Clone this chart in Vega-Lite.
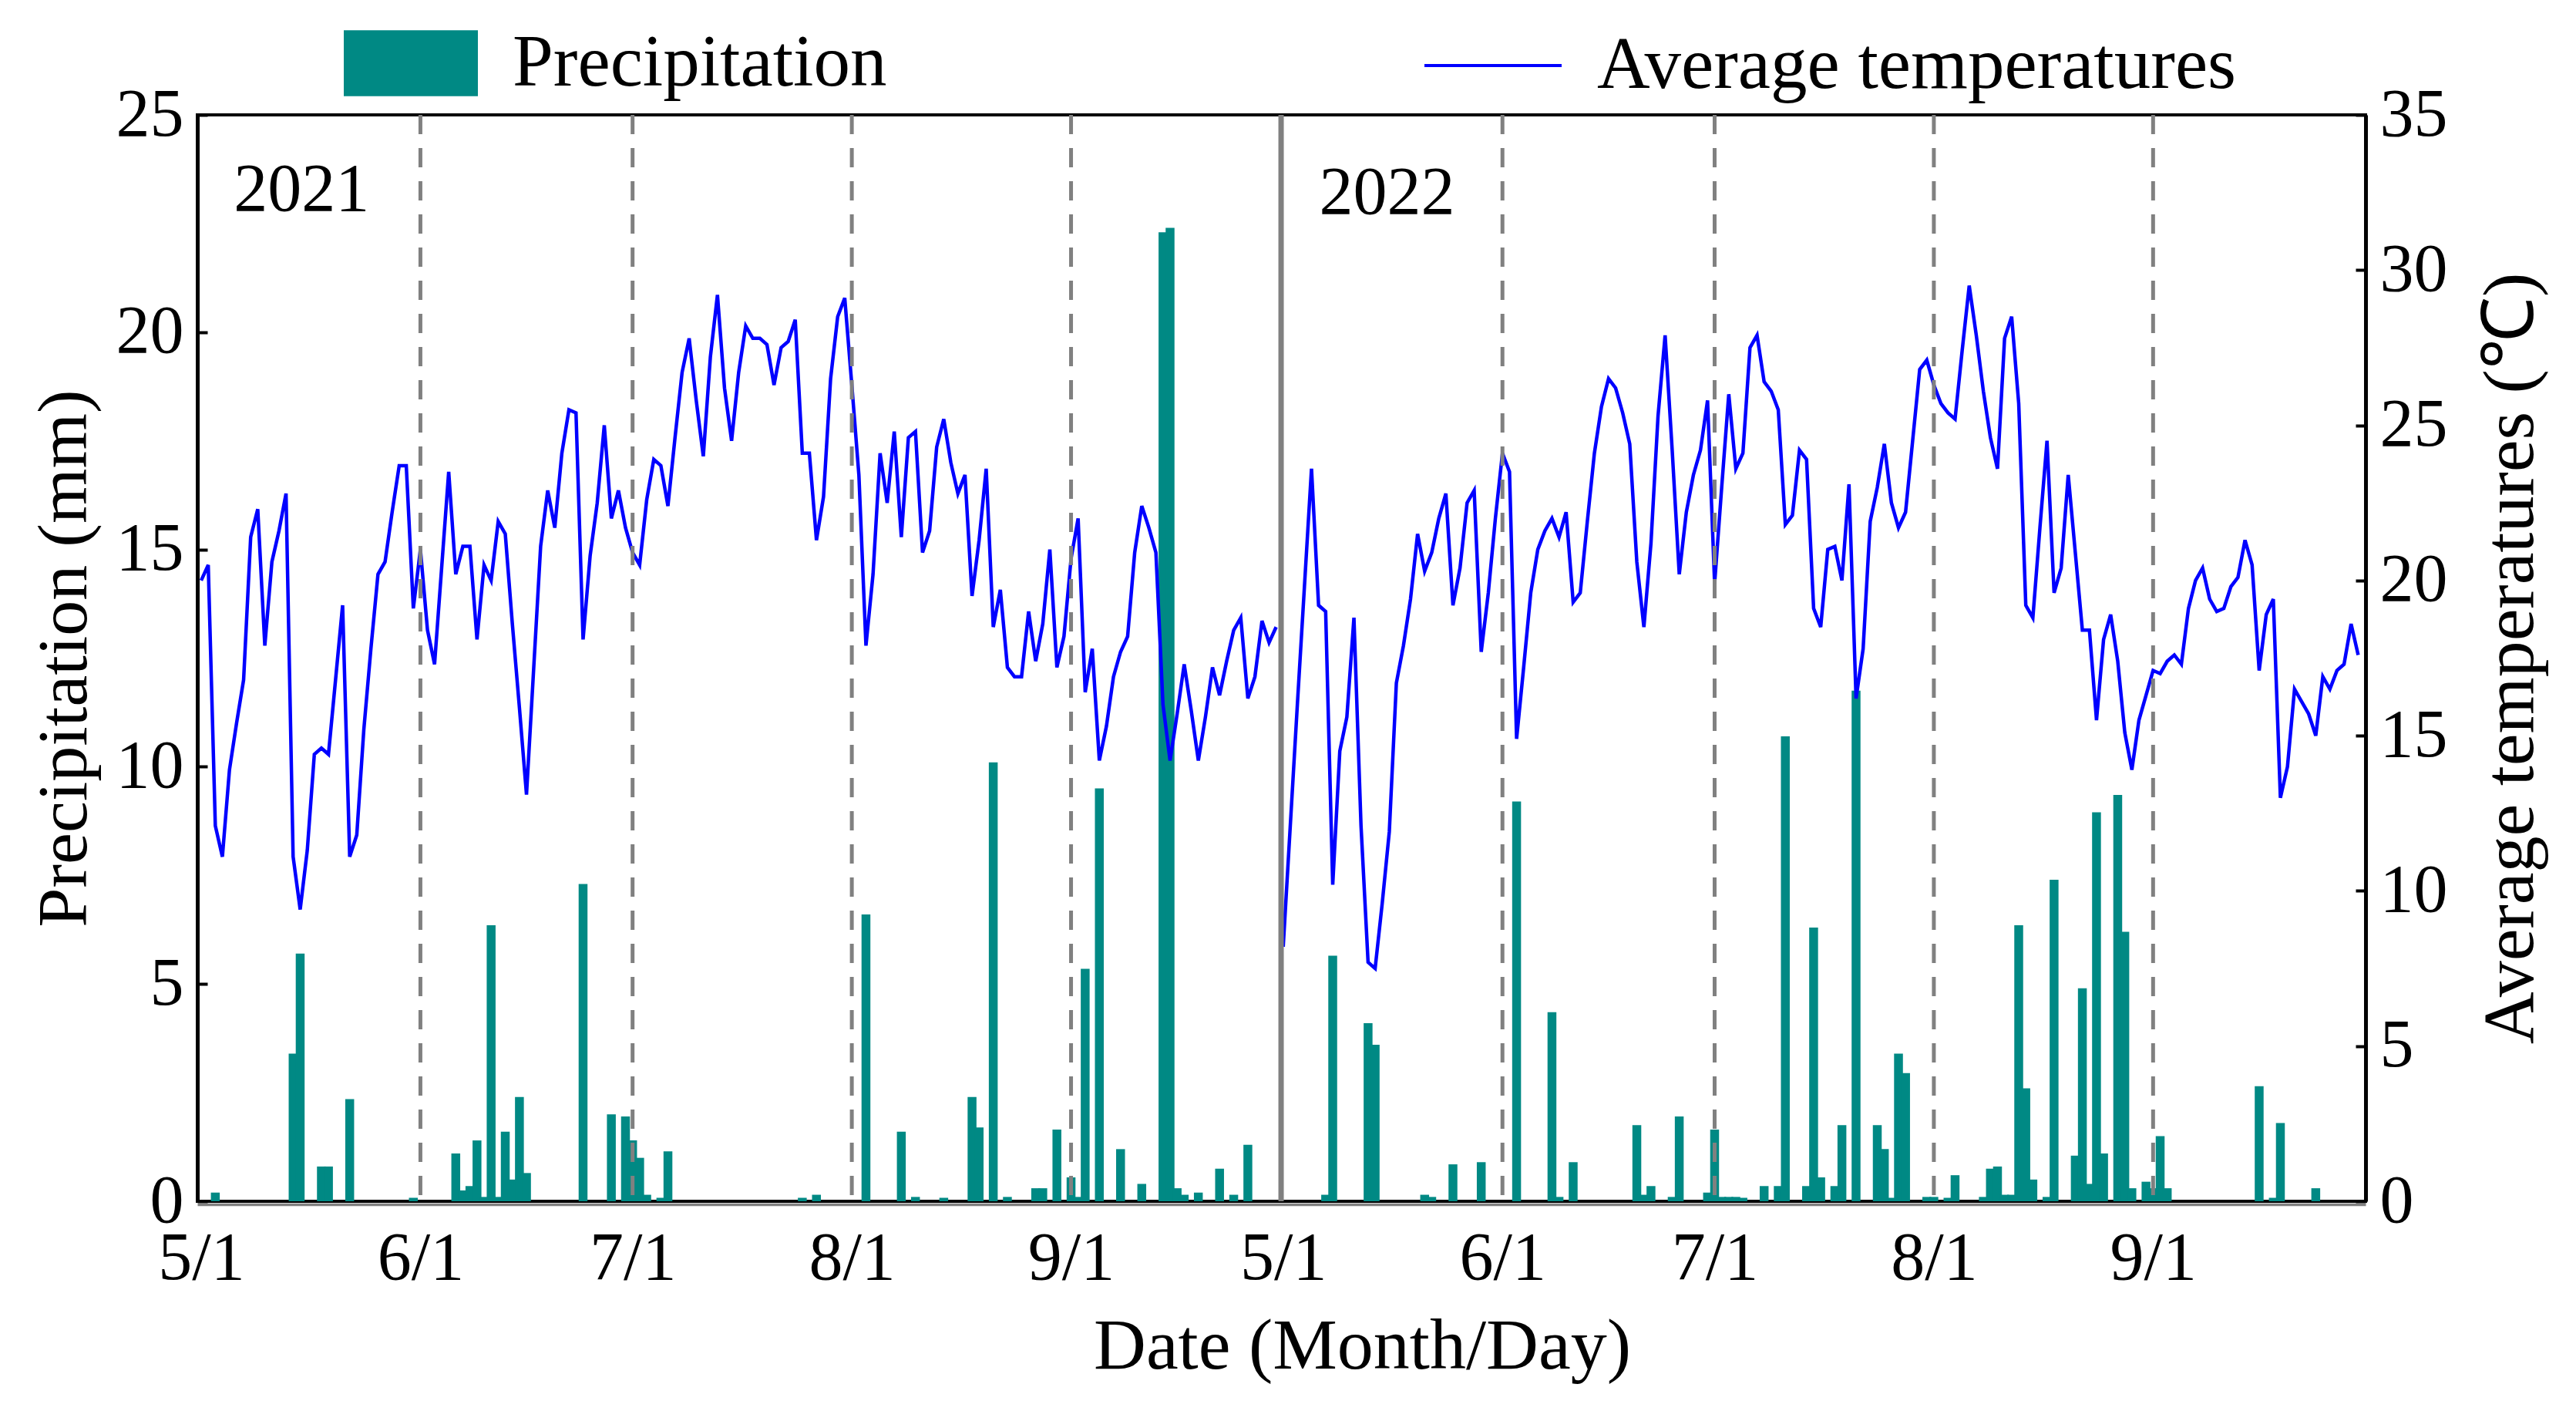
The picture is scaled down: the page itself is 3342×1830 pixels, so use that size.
{
  "$schema": "https://vega.github.io/schema/vega-lite/v6.json",
  "width": 2813,
  "height": 1409,
  "autosize": {"type": "none"},
  "padding": {"left": 256, "top": 149, "right": 273, "bottom": 272},
  "background": "white",
  "config": {
    "font": "Liberation Serif",
    "view": {"stroke": "black", "strokeWidth": 4},
    "axis": {"grid": false, "labelColor": "black", "titleColor": "black", "titleFontWeight": "normal", "labelFont": "Liberation Serif", "titleFont": "Liberation Serif"},
    "legend": {"labelLimit": 0}
  },
  "datasets": {
    "precip": [
      {"d": 2, "p": 0.2}, {"d": 13, "p": 3.4}, {"d": 14, "p": 5.7}, {"d": 17, "p": 0.8}, {"d": 18, "p": 0.8},
      {"d": 21, "p": 2.35}, {"d": 30, "p": 0.08}, {"d": 36, "p": 1.1}, {"d": 37, "p": 0.25}, {"d": 38, "p": 0.35},
      {"d": 39, "p": 1.4}, {"d": 40, "p": 0.1}, {"d": 41, "p": 6.35}, {"d": 42, "p": 0.1}, {"d": 43, "p": 1.6},
      {"d": 44, "p": 0.5}, {"d": 45, "p": 2.4}, {"d": 46, "p": 0.65}, {"d": 54, "p": 7.3}, {"d": 58, "p": 2.0},
      {"d": 60, "p": 1.95}, {"d": 61, "p": 1.4}, {"d": 62, "p": 1.0}, {"d": 63, "p": 0.15}, {"d": 65, "p": 0.08},
      {"d": 66, "p": 1.15}, {"d": 85, "p": 0.08}, {"d": 87, "p": 0.15}, {"d": 94, "p": 6.6}, {"d": 99, "p": 1.6},
      {"d": 101, "p": 0.1}, {"d": 105, "p": 0.08}, {"d": 109, "p": 2.4}, {"d": 110, "p": 1.7}, {"d": 112, "p": 10.1},
      {"d": 114, "p": 0.1}, {"d": 118, "p": 0.3}, {"d": 119, "p": 0.3}, {"d": 121, "p": 1.65}, {"d": 123, "p": 0.55},
      {"d": 124, "p": 0.1}, {"d": 125, "p": 5.35}, {"d": 127, "p": 9.5}, {"d": 130, "p": 1.2}, {"d": 133, "p": 0.4},
      {"d": 136, "p": 22.3}, {"d": 137, "p": 22.4}, {"d": 138, "p": 0.3}, {"d": 139, "p": 0.15}, {"d": 141, "p": 0.2},
      {"d": 144, "p": 0.75}, {"d": 146, "p": 0.15}, {"d": 148, "p": 1.3},
      {"d": 159, "p": 0.15}, {"d": 160, "p": 5.65}, {"d": 165, "p": 4.1}, {"d": 166, "p": 3.6}, {"d": 173, "p": 0.15},
      {"d": 174, "p": 0.1}, {"d": 177, "p": 0.85}, {"d": 181, "p": 0.9}, {"d": 186, "p": 9.2}, {"d": 191, "p": 4.35},
      {"d": 192, "p": 0.1}, {"d": 194, "p": 0.9}, {"d": 203, "p": 1.75}, {"d": 204, "p": 0.15}, {"d": 205, "p": 0.35},
      {"d": 208, "p": 0.1}, {"d": 209, "p": 1.95}, {"d": 213, "p": 0.2}, {"d": 214, "p": 1.65}, {"d": 215, "p": 0.1},
      {"d": 216, "p": 0.1}, {"d": 217, "p": 0.1}, {"d": 218, "p": 0.08}, {"d": 221, "p": 0.35}, {"d": 223, "p": 0.35},
      {"d": 224, "p": 10.7}, {"d": 227, "p": 0.35}, {"d": 228, "p": 6.3}, {"d": 229, "p": 0.55}, {"d": 231, "p": 0.35},
      {"d": 232, "p": 1.75}, {"d": 234, "p": 11.75}, {"d": 237, "p": 1.75}, {"d": 238, "p": 1.2}, {"d": 239, "p": 0.08},
      {"d": 240, "p": 3.4}, {"d": 241, "p": 2.95}, {"d": 244, "p": 0.1}, {"d": 245, "p": 0.1}, {"d": 247, "p": 0.08},
      {"d": 248, "p": 0.6}, {"d": 252, "p": 0.1}, {"d": 253, "p": 0.75}, {"d": 254, "p": 0.8}, {"d": 255, "p": 0.15},
      {"d": 256, "p": 0.15}, {"d": 257, "p": 6.35}, {"d": 258, "p": 2.6}, {"d": 259, "p": 0.5}, {"d": 261, "p": 0.1},
      {"d": 262, "p": 7.4}, {"d": 265, "p": 1.05}, {"d": 266, "p": 4.9}, {"d": 267, "p": 0.4}, {"d": 268, "p": 8.95},
      {"d": 269, "p": 1.1}, {"d": 271, "p": 9.35}, {"d": 272, "p": 6.2}, {"d": 273, "p": 0.3}, {"d": 275, "p": 0.45},
      {"d": 276, "p": 0.3}, {"d": 277, "p": 1.5}, {"d": 278, "p": 0.3}, {"d": 291, "p": 2.65}, {"d": 293, "p": 0.08},
      {"d": 294, "p": 1.8}, {"d": 299, "p": 0.3}
    ],
    "temp": [
      {"d": 0, "t": 20.0, "s": "2021"}, {"d": 1, "t": 20.5, "s": "2021"}, {"d": 2, "t": 12.1, "s": "2021"}, {"d": 3, "t": 11.1, "s": "2021"},
      {"d": 4, "t": 13.9, "s": "2021"}, {"d": 5, "t": 15.4, "s": "2021"}, {"d": 6, "t": 16.8, "s": "2021"}, {"d": 7, "t": 21.4, "s": "2021"},
      {"d": 8, "t": 22.3, "s": "2021"}, {"d": 9, "t": 17.9, "s": "2021"}, {"d": 10, "t": 20.6, "s": "2021"}, {"d": 11, "t": 21.6, "s": "2021"},
      {"d": 12, "t": 22.8, "s": "2021"}, {"d": 13, "t": 11.1, "s": "2021"}, {"d": 14, "t": 9.4, "s": "2021"}, {"d": 15, "t": 11.3, "s": "2021"},
      {"d": 16, "t": 14.4, "s": "2021"}, {"d": 17, "t": 14.6, "s": "2021"}, {"d": 18, "t": 14.4, "s": "2021"}, {"d": 19, "t": 16.8, "s": "2021"},
      {"d": 20, "t": 19.2, "s": "2021"}, {"d": 21, "t": 11.1, "s": "2021"}, {"d": 22, "t": 11.8, "s": "2021"}, {"d": 23, "t": 15.2, "s": "2021"},
      {"d": 24, "t": 17.8, "s": "2021"}, {"d": 25, "t": 20.2, "s": "2021"}, {"d": 26, "t": 20.6, "s": "2021"}, {"d": 27, "t": 22.2, "s": "2021"},
      {"d": 28, "t": 23.7, "s": "2021"}, {"d": 29, "t": 23.7, "s": "2021"}, {"d": 30, "t": 19.1, "s": "2021"}, {"d": 31, "t": 21.0, "s": "2021"},
      {"d": 32, "t": 18.4, "s": "2021"}, {"d": 33, "t": 17.3, "s": "2021"}, {"d": 34, "t": 20.4, "s": "2021"}, {"d": 35, "t": 23.5, "s": "2021"},
      {"d": 36, "t": 20.2, "s": "2021"}, {"d": 37, "t": 21.1, "s": "2021"}, {"d": 38, "t": 21.1, "s": "2021"}, {"d": 39, "t": 18.1, "s": "2021"},
      {"d": 40, "t": 20.5, "s": "2021"}, {"d": 41, "t": 20.0, "s": "2021"}, {"d": 42, "t": 21.9, "s": "2021"}, {"d": 43, "t": 21.5, "s": "2021"},
      {"d": 44, "t": 18.6, "s": "2021"}, {"d": 45, "t": 15.9, "s": "2021"}, {"d": 46, "t": 13.1, "s": "2021"}, {"d": 47, "t": 17.1, "s": "2021"},
      {"d": 48, "t": 21.1, "s": "2021"}, {"d": 49, "t": 22.9, "s": "2021"}, {"d": 50, "t": 21.7, "s": "2021"}, {"d": 51, "t": 24.1, "s": "2021"},
      {"d": 52, "t": 25.5, "s": "2021"}, {"d": 53, "t": 25.4, "s": "2021"}, {"d": 54, "t": 18.1, "s": "2021"}, {"d": 55, "t": 20.8, "s": "2021"},
      {"d": 56, "t": 22.5, "s": "2021"}, {"d": 57, "t": 25.0, "s": "2021"}, {"d": 58, "t": 22.0, "s": "2021"}, {"d": 59, "t": 22.9, "s": "2021"},
      {"d": 60, "t": 21.7, "s": "2021"}, {"d": 61, "t": 20.9, "s": "2021"}, {"d": 62, "t": 20.5, "s": "2021"}, {"d": 63, "t": 22.6, "s": "2021"},
      {"d": 64, "t": 23.9, "s": "2021"}, {"d": 65, "t": 23.7, "s": "2021"}, {"d": 66, "t": 22.4, "s": "2021"}, {"d": 67, "t": 24.6, "s": "2021"},
      {"d": 68, "t": 26.7, "s": "2021"}, {"d": 69, "t": 27.8, "s": "2021"}, {"d": 70, "t": 25.8, "s": "2021"}, {"d": 71, "t": 24.0, "s": "2021"},
      {"d": 72, "t": 27.2, "s": "2021"}, {"d": 73, "t": 29.2, "s": "2021"}, {"d": 74, "t": 26.2, "s": "2021"}, {"d": 75, "t": 24.5, "s": "2021"},
      {"d": 76, "t": 26.7, "s": "2021"}, {"d": 77, "t": 28.2, "s": "2021"}, {"d": 78, "t": 27.8, "s": "2021"}, {"d": 79, "t": 27.8, "s": "2021"},
      {"d": 80, "t": 27.6, "s": "2021"}, {"d": 81, "t": 26.3, "s": "2021"}, {"d": 82, "t": 27.5, "s": "2021"}, {"d": 83, "t": 27.7, "s": "2021"},
      {"d": 84, "t": 28.4, "s": "2021"}, {"d": 85, "t": 24.1, "s": "2021"}, {"d": 86, "t": 24.1, "s": "2021"}, {"d": 87, "t": 21.3, "s": "2021"},
      {"d": 88, "t": 22.7, "s": "2021"}, {"d": 89, "t": 26.5, "s": "2021"}, {"d": 90, "t": 28.5, "s": "2021"}, {"d": 91, "t": 29.1, "s": "2021"},
      {"d": 92, "t": 26.3, "s": "2021"}, {"d": 93, "t": 23.4, "s": "2021"}, {"d": 94, "t": 17.9, "s": "2021"}, {"d": 95, "t": 20.2, "s": "2021"},
      {"d": 96, "t": 24.1, "s": "2021"}, {"d": 97, "t": 22.5, "s": "2021"}, {"d": 98, "t": 24.8, "s": "2021"}, {"d": 99, "t": 21.4, "s": "2021"},
      {"d": 100, "t": 24.6, "s": "2021"}, {"d": 101, "t": 24.8, "s": "2021"}, {"d": 102, "t": 20.9, "s": "2021"}, {"d": 103, "t": 21.6, "s": "2021"},
      {"d": 104, "t": 24.3, "s": "2021"}, {"d": 105, "t": 25.2, "s": "2021"}, {"d": 106, "t": 23.8, "s": "2021"}, {"d": 107, "t": 22.8, "s": "2021"},
      {"d": 108, "t": 23.4, "s": "2021"}, {"d": 109, "t": 19.5, "s": "2021"}, {"d": 110, "t": 21.3, "s": "2021"}, {"d": 111, "t": 23.6, "s": "2021"},
      {"d": 112, "t": 18.5, "s": "2021"}, {"d": 113, "t": 19.7, "s": "2021"}, {"d": 114, "t": 17.2, "s": "2021"}, {"d": 115, "t": 16.9, "s": "2021"},
      {"d": 116, "t": 16.9, "s": "2021"}, {"d": 117, "t": 19.0, "s": "2021"}, {"d": 118, "t": 17.4, "s": "2021"}, {"d": 119, "t": 18.6, "s": "2021"},
      {"d": 120, "t": 21.0, "s": "2021"}, {"d": 121, "t": 17.2, "s": "2021"}, {"d": 122, "t": 18.2, "s": "2021"}, {"d": 123, "t": 20.7, "s": "2021"},
      {"d": 124, "t": 22.0, "s": "2021"}, {"d": 125, "t": 16.4, "s": "2021"}, {"d": 126, "t": 17.8, "s": "2021"}, {"d": 127, "t": 14.2, "s": "2021"},
      {"d": 128, "t": 15.3, "s": "2021"}, {"d": 129, "t": 16.9, "s": "2021"}, {"d": 130, "t": 17.7, "s": "2021"}, {"d": 131, "t": 18.2, "s": "2021"},
      {"d": 132, "t": 20.9, "s": "2021"}, {"d": 133, "t": 22.4, "s": "2021"}, {"d": 134, "t": 21.7, "s": "2021"}, {"d": 135, "t": 20.9, "s": "2021"},
      {"d": 136, "t": 16.0, "s": "2021"}, {"d": 137, "t": 14.2, "s": "2021"}, {"d": 138, "t": 15.7, "s": "2021"}, {"d": 139, "t": 17.3, "s": "2021"},
      {"d": 140, "t": 15.8, "s": "2021"}, {"d": 141, "t": 14.2, "s": "2021"}, {"d": 142, "t": 15.6, "s": "2021"}, {"d": 143, "t": 17.2, "s": "2021"},
      {"d": 144, "t": 16.3, "s": "2021"}, {"d": 145, "t": 17.4, "s": "2021"}, {"d": 146, "t": 18.4, "s": "2021"}, {"d": 147, "t": 18.8, "s": "2021"},
      {"d": 148, "t": 16.2, "s": "2021"}, {"d": 149, "t": 16.9, "s": "2021"}, {"d": 150, "t": 18.7, "s": "2021"}, {"d": 151, "t": 18.0, "s": "2021"},
      {"d": 152, "t": 18.5, "s": "2021"},
      {"d": 153, "t": 8.2, "s": "2022"}, {"d": 154, "t": 12.1, "s": "2022"}, {"d": 155, "t": 16.0, "s": "2022"}, {"d": 156, "t": 19.8, "s": "2022"},
      {"d": 157, "t": 23.6, "s": "2022"}, {"d": 158, "t": 19.2, "s": "2022"}, {"d": 159, "t": 19.0, "s": "2022"}, {"d": 160, "t": 10.2, "s": "2022"},
      {"d": 161, "t": 14.5, "s": "2022"}, {"d": 162, "t": 15.6, "s": "2022"}, {"d": 163, "t": 18.8, "s": "2022"}, {"d": 164, "t": 12.1, "s": "2022"},
      {"d": 165, "t": 7.7, "s": "2022"}, {"d": 166, "t": 7.5, "s": "2022"}, {"d": 167, "t": 9.6, "s": "2022"}, {"d": 168, "t": 11.9, "s": "2022"},
      {"d": 169, "t": 16.7, "s": "2022"}, {"d": 170, "t": 17.9, "s": "2022"}, {"d": 171, "t": 19.4, "s": "2022"}, {"d": 172, "t": 21.5, "s": "2022"},
      {"d": 173, "t": 20.3, "s": "2022"}, {"d": 174, "t": 20.9, "s": "2022"}, {"d": 175, "t": 22.0, "s": "2022"}, {"d": 176, "t": 22.8, "s": "2022"},
      {"d": 177, "t": 19.2, "s": "2022"}, {"d": 178, "t": 20.4, "s": "2022"}, {"d": 179, "t": 22.5, "s": "2022"}, {"d": 180, "t": 22.9, "s": "2022"},
      {"d": 181, "t": 17.7, "s": "2022"}, {"d": 182, "t": 19.6, "s": "2022"}, {"d": 183, "t": 22.0, "s": "2022"}, {"d": 184, "t": 24.1, "s": "2022"},
      {"d": 185, "t": 23.5, "s": "2022"}, {"d": 186, "t": 14.9, "s": "2022"}, {"d": 187, "t": 17.2, "s": "2022"}, {"d": 188, "t": 19.6, "s": "2022"},
      {"d": 189, "t": 21.0, "s": "2022"}, {"d": 190, "t": 21.6, "s": "2022"}, {"d": 191, "t": 22.0, "s": "2022"}, {"d": 192, "t": 21.4, "s": "2022"},
      {"d": 193, "t": 22.2, "s": "2022"}, {"d": 194, "t": 19.3, "s": "2022"}, {"d": 195, "t": 19.6, "s": "2022"}, {"d": 196, "t": 21.9, "s": "2022"},
      {"d": 197, "t": 24.1, "s": "2022"}, {"d": 198, "t": 25.6, "s": "2022"}, {"d": 199, "t": 26.5, "s": "2022"}, {"d": 200, "t": 26.2, "s": "2022"},
      {"d": 201, "t": 25.4, "s": "2022"}, {"d": 202, "t": 24.4, "s": "2022"}, {"d": 203, "t": 20.6, "s": "2022"}, {"d": 204, "t": 18.5, "s": "2022"},
      {"d": 205, "t": 21.2, "s": "2022"}, {"d": 206, "t": 25.3, "s": "2022"}, {"d": 207, "t": 27.9, "s": "2022"}, {"d": 208, "t": 24.2, "s": "2022"},
      {"d": 209, "t": 20.2, "s": "2022"}, {"d": 210, "t": 22.2, "s": "2022"}, {"d": 211, "t": 23.4, "s": "2022"}, {"d": 212, "t": 24.2, "s": "2022"},
      {"d": 213, "t": 25.8, "s": "2022"}, {"d": 214, "t": 19.9, "s": "2022"}, {"d": 215, "t": 23.0, "s": "2022"}, {"d": 216, "t": 26.0, "s": "2022"},
      {"d": 217, "t": 23.6, "s": "2022"}, {"d": 218, "t": 24.1, "s": "2022"}, {"d": 219, "t": 27.5, "s": "2022"}, {"d": 220, "t": 27.9, "s": "2022"},
      {"d": 221, "t": 26.4, "s": "2022"}, {"d": 222, "t": 26.1, "s": "2022"}, {"d": 223, "t": 25.5, "s": "2022"}, {"d": 224, "t": 21.8, "s": "2022"},
      {"d": 225, "t": 22.1, "s": "2022"}, {"d": 226, "t": 24.2, "s": "2022"}, {"d": 227, "t": 23.9, "s": "2022"}, {"d": 228, "t": 19.1, "s": "2022"},
      {"d": 229, "t": 18.5, "s": "2022"}, {"d": 230, "t": 21.0, "s": "2022"}, {"d": 231, "t": 21.1, "s": "2022"}, {"d": 232, "t": 20.0, "s": "2022"},
      {"d": 233, "t": 23.1, "s": "2022"}, {"d": 234, "t": 16.2, "s": "2022"}, {"d": 235, "t": 17.8, "s": "2022"}, {"d": 236, "t": 21.9, "s": "2022"},
      {"d": 237, "t": 23.0, "s": "2022"}, {"d": 238, "t": 24.4, "s": "2022"}, {"d": 239, "t": 22.5, "s": "2022"}, {"d": 240, "t": 21.7, "s": "2022"},
      {"d": 241, "t": 22.2, "s": "2022"}, {"d": 242, "t": 24.5, "s": "2022"}, {"d": 243, "t": 26.8, "s": "2022"}, {"d": 244, "t": 27.1, "s": "2022"},
      {"d": 245, "t": 26.3, "s": "2022"}, {"d": 246, "t": 25.7, "s": "2022"}, {"d": 247, "t": 25.4, "s": "2022"}, {"d": 248, "t": 25.2, "s": "2022"},
      {"d": 249, "t": 27.4, "s": "2022"}, {"d": 250, "t": 29.5, "s": "2022"}, {"d": 251, "t": 27.9, "s": "2022"}, {"d": 252, "t": 26.1, "s": "2022"},
      {"d": 253, "t": 24.6, "s": "2022"}, {"d": 254, "t": 23.6, "s": "2022"}, {"d": 255, "t": 27.8, "s": "2022"}, {"d": 256, "t": 28.5, "s": "2022"},
      {"d": 257, "t": 25.7, "s": "2022"}, {"d": 258, "t": 19.2, "s": "2022"}, {"d": 259, "t": 18.8, "s": "2022"}, {"d": 260, "t": 21.7, "s": "2022"},
      {"d": 261, "t": 24.5, "s": "2022"}, {"d": 262, "t": 19.6, "s": "2022"}, {"d": 263, "t": 20.4, "s": "2022"}, {"d": 264, "t": 23.4, "s": "2022"},
      {"d": 265, "t": 20.9, "s": "2022"}, {"d": 266, "t": 18.4, "s": "2022"}, {"d": 267, "t": 18.4, "s": "2022"}, {"d": 268, "t": 15.5, "s": "2022"},
      {"d": 269, "t": 18.1, "s": "2022"}, {"d": 270, "t": 18.9, "s": "2022"}, {"d": 271, "t": 17.4, "s": "2022"}, {"d": 272, "t": 15.1, "s": "2022"},
      {"d": 273, "t": 13.9, "s": "2022"}, {"d": 274, "t": 15.5, "s": "2022"}, {"d": 275, "t": 16.3, "s": "2022"}, {"d": 276, "t": 17.1, "s": "2022"},
      {"d": 277, "t": 17.0, "s": "2022"}, {"d": 278, "t": 17.4, "s": "2022"}, {"d": 279, "t": 17.6, "s": "2022"}, {"d": 280, "t": 17.3, "s": "2022"},
      {"d": 281, "t": 19.1, "s": "2022"}, {"d": 282, "t": 20.0, "s": "2022"}, {"d": 283, "t": 20.4, "s": "2022"}, {"d": 284, "t": 19.4, "s": "2022"},
      {"d": 285, "t": 19.0, "s": "2022"}, {"d": 286, "t": 19.1, "s": "2022"}, {"d": 287, "t": 19.8, "s": "2022"}, {"d": 288, "t": 20.1, "s": "2022"},
      {"d": 289, "t": 21.3, "s": "2022"}, {"d": 290, "t": 20.5, "s": "2022"}, {"d": 291, "t": 17.1, "s": "2022"}, {"d": 292, "t": 18.9, "s": "2022"},
      {"d": 293, "t": 19.4, "s": "2022"}, {"d": 294, "t": 13.0, "s": "2022"}, {"d": 295, "t": 14.0, "s": "2022"}, {"d": 296, "t": 16.5, "s": "2022"},
      {"d": 297, "t": 16.1, "s": "2022"}, {"d": 298, "t": 15.7, "s": "2022"}, {"d": 299, "t": 15.0, "s": "2022"}, {"d": 300, "t": 16.9, "s": "2022"},
      {"d": 301, "t": 16.5, "s": "2022"}, {"d": 302, "t": 17.1, "s": "2022"}, {"d": 303, "t": 17.3, "s": "2022"}, {"d": 304, "t": 18.6, "s": "2022"},
      {"d": 305, "t": 17.6, "s": "2022"}
    ],
    "months": [{"d": 31}, {"d": 61}, {"d": 92}, {"d": 123}, {"d": 184}, {"d": 214}, {"d": 245}, {"d": 276}],
    "split": [{"d": 152.7}],
    "years": [{"label": "2021", "d": 4.6, "p": 22.8}, {"label": "2022", "d": 158.1, "p": 22.73}]
  },
  "encoding": {
    "x": {
      "field": "d", "type": "quantitative",
      "scale": {"domain": [0, 305.5], "nice": false, "zero": false},
      "axis": {
        "values": [0, 31, 61, 92, 123, 153, 184, 214, 245, 276],
        "labelExpr": "['5/1','6/1','7/1','8/1','9/1'][indexof([0,31,61,92,123], datum.value % 153)]",
        "labelFlush": false,
        "labelFontSize": 88,
        "labelPadding": 26,
        "ticks": false,
        "domainColor": "#808080",
        "domainWidth": 3.5,
        "offset": 4,
        "title": "Date (Month/Day)",
        "titleFontSize": 94,
        "titleX": 1511,
        "titleAlign": "center",
        "titlePadding": 24
      }
    }
  },
  "layer": [
    {
      "data": {"name": "precip"},
      "mark": {"type": "bar", "size": 11.5},
      "encoding": {
        "y": {
          "field": "p", "type": "quantitative",
          "scale": {"domain": [0, 25], "nice": false},
          "axis": {
            "orient": "left",
            "values": [0, 5, 10, 15, 20, 25],
            "domainColor": "black",
            "domainWidth": 5,
            "tickSize": -13,
            "tickWidth": 4,
            "tickColor": "black",
            "labelFontSize": 88,
            "labelPadding": 31,
            "title": "Precipitation (mm)",
            "titleFontSize": 92,
            "titlePadding": 20
          }
        },
        "color": {
          "datum": "Precipitation",
          "scale": {"range": ["#008984"]},
          "legend": {
            "orient": "none", "legendX": 190, "legendY": -154,
            "title": null, "padding": 0,
            "symbolType": "M-1,-0.49H1V0.49H-1Z", "symbolSize": 30276, "symbolStrokeWidth": 0,
            "labelFontSize": 95, "labelFont": "Liberation Serif", "labelColor": "black", "labelOffset": 45, "labelLimit": 0
          }
        }
      }
    },
    {
      "data": {"name": "temp"},
      "mark": {"type": "line", "strokeWidth": 4.5},
      "encoding": {
        "y": {
          "field": "t", "type": "quantitative",
          "scale": {"domain": [0, 35], "nice": false},
          "axis": {
            "orient": "right",
            "values": [0, 5, 10, 15, 20, 25, 30, 35],
            "domainColor": "black",
            "domainWidth": 5,
            "tickSize": -13,
            "tickWidth": 4,
            "tickColor": "black",
            "labelFontSize": 88,
            "labelPadding": 31,
            "title": "Average temperatures (℃)",
            "titleFontSize": 94,
            "titleAngle": -90,
            "titleBaseline": "top",
            "titlePadding": 36
          }
        },
        "detail": {"field": "s"},
        "stroke": {
          "datum": "Average temperatures",
          "scale": {"range": ["#0000FF"]},
          "legend": {
            "orient": "none", "legendX": 1590, "legendY": -155,
            "title": null, "padding": 0,
            "symbolType": "stroke", "symbolSize": 31684, "symbolStrokeWidth": 4,
            "labelFontSize": 95, "labelFont": "Liberation Serif", "labelColor": "black", "labelOffset": 44, "labelLimit": 0
          }
        }
      }
    },
    {
      "data": {"name": "months"},
      "mark": {"type": "rule", "color": "#808080", "strokeWidth": 5, "strokeDash": [25, 18]},
      "encoding": {}
    },
    {
      "data": {"name": "split"},
      "mark": {"type": "rule", "color": "#808080", "strokeWidth": 7},
      "encoding": {}
    },
    {
      "data": {"name": "years"},
      "mark": {"type": "text", "align": "left", "baseline": "alphabetic", "fontSize": 88, "font": "Liberation Serif", "color": "black"},
      "encoding": {
        "y": {"field": "p", "type": "quantitative", "scale": {"domain": [0, 25], "nice": false}, "axis": null},
        "text": {"field": "label"}
      }
    }
  ],
  "resolve": {"scale": {"y": "independent", "color": "independent", "stroke": "independent"}}
}
